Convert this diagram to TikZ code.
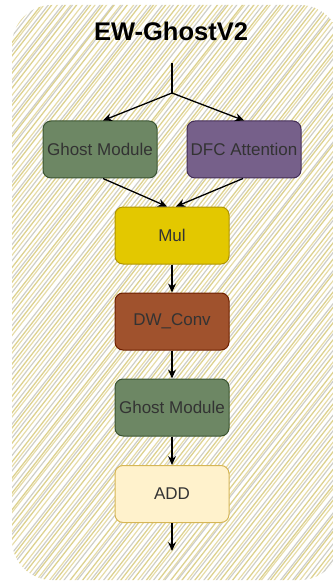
\documentclass[tikz,border=0pt]{standalone}
\usepackage{fontspec}
\setmainfont{Liberation Sans}
\usetikzlibrary{arrows.meta}

\definecolor{hatchA}{HTML}{DDD290}
\definecolor{hatchB}{HTML}{CFCFC8}
\definecolor{hatchC}{HTML}{E6DCA8}
\definecolor{ghostFill}{HTML}{6D8764}
\definecolor{ghostLine}{HTML}{3A5431}
\definecolor{dfcFill}{HTML}{76608A}
\definecolor{dfcLine}{HTML}{432D57}
\definecolor{mulFill}{HTML}{E3C800}
\definecolor{mulLine}{HTML}{B09500}
\definecolor{convFill}{HTML}{A0522D}
\definecolor{convLine}{HTML}{6D1F00}
\definecolor{addFill}{HTML}{FFF2CC}
\definecolor{addLine}{HTML}{D6B656}
\definecolor{labelText}{HTML}{333333}

\tikzset{
  block/.style={rounded corners=8pt, minimum width=114pt, minimum height=57pt,
    line width=1pt, inner sep=0pt, text=labelText, font=\fontsize{17}{19}\selectfont},
  flow/.style={line width=1.3pt, -{Stealth[length=9pt,width=8pt]}},
  plainline/.style={line width=1.3pt},
}

\begin{document}
\begin{tikzpicture}[x=1pt,y=-1pt]
\useasboundingbox (0,0) rectangle (332,585);

% hand-drawn hachure background panel
\begin{scope}
  \clip[rounded corners=40pt] (12,5) rectangle (340,580);
  \pgfmathsetseed{7}
  \foreach \t [count=\k] in {-480,-475.8,...,345}{
    \pgfmathsetmacro{\ja}{rand*1.5}
    \pgfmathsetmacro{\jb}{rand*1.5}
    \pgfmathtruncatemacro{\odd}{mod(\k,3)}
    \ifcase\odd
      \draw[hatchB, line width=1.2pt] (\t+\ja,590) -- (\t+461+\jb,0);
    \or
      \draw[hatchA, line width=1.3pt] (\t+\ja,590) -- (\t+461+\jb,0);
    \else
      \draw[hatchC, line width=1.2pt] (\t+\ja,590) -- (\t+461+\jb,0);
    \fi
  }
\end{scope}

% title
\node (title) at (171,31) {\fontsize{25.5}{28}\selectfont\bfseries EW-GhostV2};

% blocks
\node[block, fill=ghostFill, draw=ghostLine] (gm1) at (100,149.5) {Ghost Module};
\node[block, fill=dfcFill, draw=dfcLine] (dfc) at (244,149.5) {DFC Attention};
\node[block, fill=mulFill, draw=mulLine] (mul) at (172,235.5) {Mul};
\node[block, fill=convFill, draw=convLine] (conv) at (172,321.5) {DW\_Conv};
\node[block, fill=ghostFill, draw=ghostLine] (gm2) at (172,407.5) {Ghost Module};
\node[block, fill=addFill, draw=addLine] (add) at (172,494) {ADD};

% connectors
\coordinate (input) at (172,63);
\coordinate (split) at (172,93);
\coordinate (output) at (172,551);

\draw[plainline] (input) -- (split);
\draw[flow] (split) -- ([xshift=3pt]gm1.north);
\draw[flow] (split) -- (dfc.north);
\draw[flow] ([xshift=3pt]gm1.south) -- ([xshift=-5pt]mul.north);
\draw[flow] ([xshift=-1pt]dfc.south) -- ([xshift=4pt]mul.north);
\draw[flow] (mul) -- (conv);
\draw[flow] (conv) -- (gm2);
\draw[flow] (gm2) -- (add);
\draw[flow] (add) -- (output);
\end{tikzpicture}
\end{document}
